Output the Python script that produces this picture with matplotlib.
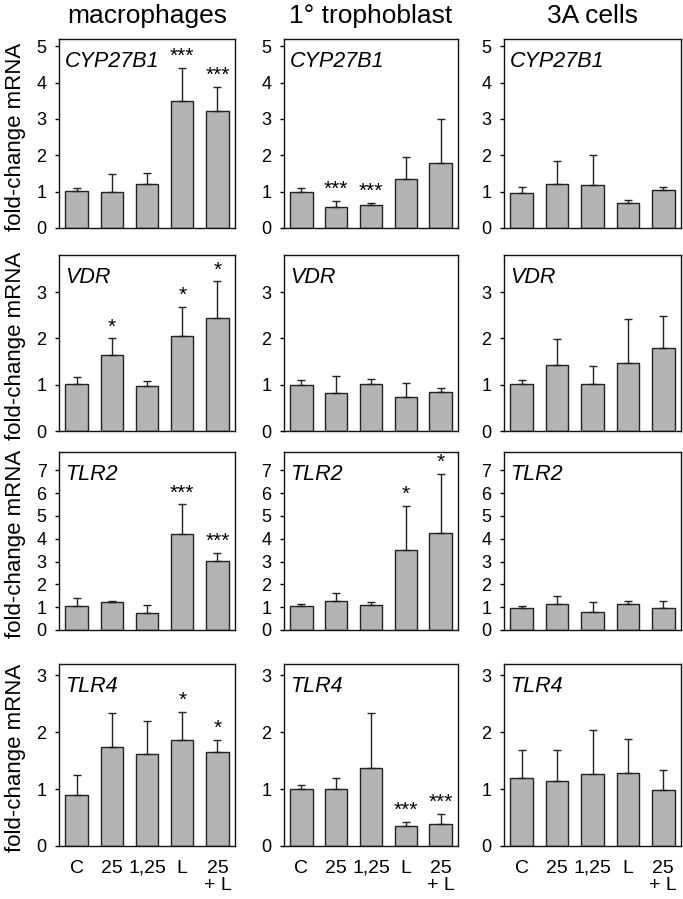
import numpy as np
import matplotlib
matplotlib.use("Agg")
import matplotlib.pyplot as plt

plt.rcParams['font.family'] = ['Liberation Sans', 'DejaVu Sans']

cells = ['macrophages', '1° trophoblast', '3A cells']
genes = ['CYP27B1', 'VDR', 'TLR2', 'TLR4']
treatments = ['C', '25', '1,25', 'L', '25\n+ L']

# mean fold-change, rows = genes, cols = cell types
cyp_mean = [[1.03, 0.99, 1.20, 3.50, 3.21],
            [1.00, 0.59, 0.64, 1.36, 1.78],
            [0.97, 1.22, 1.17, 0.68, 1.04]]
cyp_sd = [[0.07, 0.49, 0.32, 0.91, 0.68],
          [0.10, 0.16, 0.05, 0.59, 1.23],
          [0.16, 0.62, 0.83, 0.10, 0.08]]
cyp_sig = [['', '', '', '***', '***'],
           ['', '***', '***', '', ''],
           ['', '', '', '', '']]

vdr_mean = [[1.02, 1.65, 0.97, 2.05, 2.45],
            [1.00, 0.83, 1.02, 0.74, 0.85],
            [1.01, 1.42, 1.02, 1.47, 1.79]]
vdr_sd = [[0.15, 0.35, 0.10, 0.63, 0.78],
          [0.11, 0.35, 0.10, 0.29, 0.08],
          [0.09, 0.56, 0.38, 0.94, 0.70]]
vdr_sig = [['', '*', '', '*', '*'],
           ['', '', '', '', ''],
           ['', '', '', '', '']]

tlr2_mean = [[1.05, 1.23, 0.76, 4.19, 3.04],
             [1.05, 1.27, 1.08, 3.50, 4.25],
             [0.98, 1.13, 0.79, 1.13, 0.97]]
tlr2_sd = [[0.35, 0.04, 0.32, 1.31, 0.32],
           [0.09, 0.34, 0.15, 1.93, 2.60],
           [0.07, 0.36, 0.45, 0.16, 0.32]]
tlr2_sig = [['', '', '', '***', '***'],
            ['', '', '', '*', '*'],
            ['', '', '', '', '']]

tlr4_mean = [[0.89, 1.74, 1.62, 1.87, 1.66],
             [1.01, 1.00, 1.38, 0.36, 0.39],
             [1.19, 1.14, 1.27, 1.29, 0.98]]
tlr4_sd = [[0.35, 0.59, 0.57, 0.49, 0.21],
           [0.07, 0.20, 0.96, 0.07, 0.18],
           [0.49, 0.54, 0.77, 0.60, 0.36]]
tlr4_sig = [['', '', '', '*', '*'],
            ['', '', '', '***', '***'],
            ['', '', '', '', '']]

means = [cyp_mean, vdr_mean, tlr2_mean, tlr4_mean]
sds = [cyp_sd, vdr_sd, tlr2_sd, tlr4_sd]
sigs = [cyp_sig, vdr_sig, tlr2_sig, tlr4_sig]
ymax = [5.2, 3.8, 7.8, 3.2]
ytop_tick = [5, 3, 7, 3]

W, H = 683, 899
fig = plt.figure(figsize=(W / 100, H / 100), dpi=100)

# panel boxes in pixels
col_x = [(59, 235), (284, 458), (504, 681)]
row_y = [(39, 228), (255, 431), (452, 630), (664, 846)]

for r in range(4):
    y0, y1 = row_y[r]
    for c in range(3):
        x0, x1 = col_x[c]
        ax = fig.add_axes([x0 / W, 1 - y1 / H, (x1 - x0) / W, (y1 - y0) / H])
        m = np.array(means[r][c])
        s = np.array(sds[r][c])
        x = np.arange(len(m))
        ax.bar(x, m, width=0.64, color='#b4b4b4', edgecolor='#222222', linewidth=1.0, zorder=2)
        ax.errorbar(x, m, yerr=[np.zeros_like(s), s], fmt='none', ecolor='#222222',
                    elinewidth=1.0, capsize=2.6, capthick=1.0, zorder=3)
        for i, lab in enumerate(sigs[r][c]):
            if lab:
                ax.annotate(lab, xy=(x[i], m[i] + s[i]), xytext=(0, 6), textcoords='offset pixels',
                            ha='center', va='baseline', fontsize=15)
        ax.annotate(genes[r], xy=(0, 1), xycoords='axes fraction', xytext=(6, -28),
                    textcoords='offset pixels', ha='left', va='baseline',
                    fontsize=15.5, style='italic')
        ax.set_xlim(-0.5, len(m) - 0.5)
        ax.set_ylim(0, ymax[r])
        ax.set_yticks(range(ytop_tick[r] + 1))
        ax.tick_params(axis='y', direction='out', length=3, width=1, pad=6, labelsize=13)
        ax.tick_params(axis='x', length=0, pad=10, labelsize=14)
        ax.set_xticks(x)
        if r == 3:
            ax.set_xticklabels(treatments, linespacing=1.0)
        else:
            ax.set_xticklabels([])
        for sp in ax.spines.values():
            sp.set_linewidth(1.0)
            sp.set_color('#111111')
    fig.text(16 / W, 1 - ((y0 + y1) / 2 + 3) / H, 'fold-change mRNA', rotation=90,
             ha='center', va='center', fontsize=16)

for c in range(3):
    x0, x1 = col_x[c]
    fig.text((x0 + x1) / 2 / W, 1 - 23 / H, cells[c], ha='center', va='baseline', fontsize=19)

fig.savefig('out.png', dpi=100)
